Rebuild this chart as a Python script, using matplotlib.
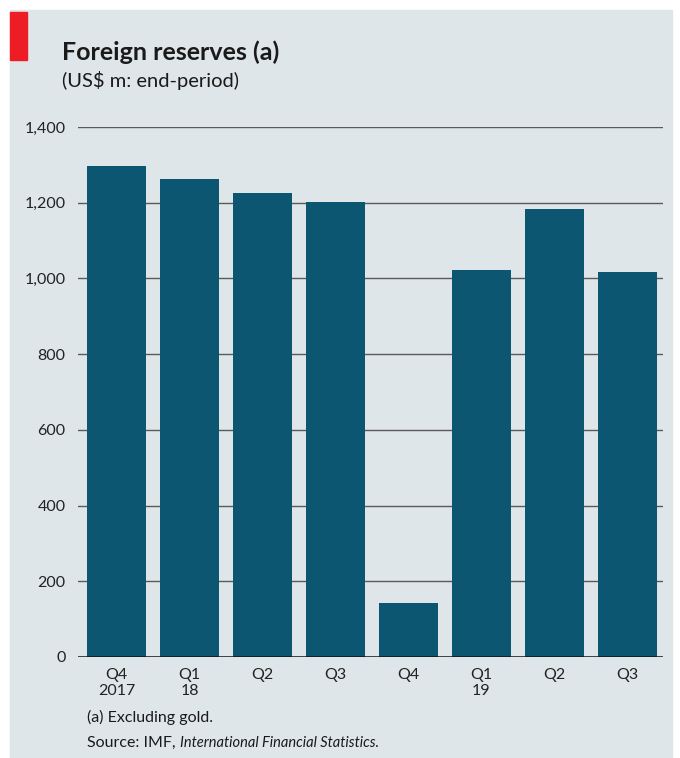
import matplotlib.pyplot as plt
from matplotlib.patches import Rectangle

# quarterly end-period foreign reserves, US$ m (excluding gold)
quarters = ["Q4\n2017", "Q1\n18", "Q2", "Q3", "Q4", "Q1\n19", "Q2", "Q3"]
reserves = [1297, 1263, 1226, 1202, 143, 1022, 1183, 1017]
y_ticks = [0, 200, 400, 600, 800, 1000, 1200, 1400]
y_labels = ["0", "200", "400", "600", "800", "1,000", "1,200", "1,400"]

BG = "#dee6e9"
BAR = "#0d5672"
FONT = ["Lato", "DejaVu Sans"]

plt.rcParams["font.family"] = FONT

fig = plt.figure(figsize=(6.8, 7.58), dpi=100, facecolor="white")

# panel background and red corner tag (figure pixel coords)
W, H = 680, 758
fig.patches.append(Rectangle((10 / W, 0), 662 / W, 748 / H,
                             transform=fig.transFigure, color=BG, zorder=-2))
fig.patches.append(Rectangle((10 / W, 1 - 60 / H), 17 / W, 48 / H,
                             transform=fig.transFigure, color="#ee1c25", zorder=-1))

ax = fig.add_axes([78 / W, 1 - 657 / H, 585 / W, 530 / H])
ax.set_zorder(2)
ax.set_facecolor(BG)

x = range(len(quarters))
ax.bar(x, reserves, width=0.81, color=BAR, zorder=3)

ax.set_ylim(0, 1400)
ax.set_xlim(-0.53, 7.49)
ax.set_yticks(y_ticks)
ax.set_yticklabels(y_labels, fontsize=11.5, color="#222222")
ax.set_xticks(list(x))
ax.set_xticklabels(quarters, fontsize=11.5, color="#222222", linespacing=1.2)
ax.tick_params(axis="both", length=0)
ax.tick_params(axis="y", pad=9)
ax.tick_params(axis="x", pad=8)

for v in y_ticks[1:]:
    ax.axhline(v, color="#5a5a5a", lw=1.0, zorder=2)
ax.axhline(0, color="#111111", lw=1.8, zorder=4)

for s in ax.spines.values():
    s.set_visible(False)

fig.text(62 / W, 1 - 60 / H, "Foreign reserves (a)", fontsize=18,
         fontweight="bold", color="#1a1a1a", va="baseline")
fig.text(62 / W, 1 - 87 / H, "(US$ m: end-period)", fontsize=14.5,
         color="#1a1a1a", va="baseline")

fig.text(87 / W, 1 - 722 / H, "(a) Excluding gold.", fontsize=11.5,
         color="#1a1a1a", va="baseline")
src = fig.text(87 / W, 1 - 747 / H, "Source: IMF, ", fontsize=11.5,
               color="#1a1a1a", va="baseline")
fig.canvas.draw()
bb = src.get_window_extent()
fig.text(bb.x1 / W, 1 - 747 / H, "International Financial Statistics.",
         fontsize=10.5, style="italic", color="#1a1a1a", va="baseline")

fig.savefig("out.png", dpi=100, facecolor="white")
